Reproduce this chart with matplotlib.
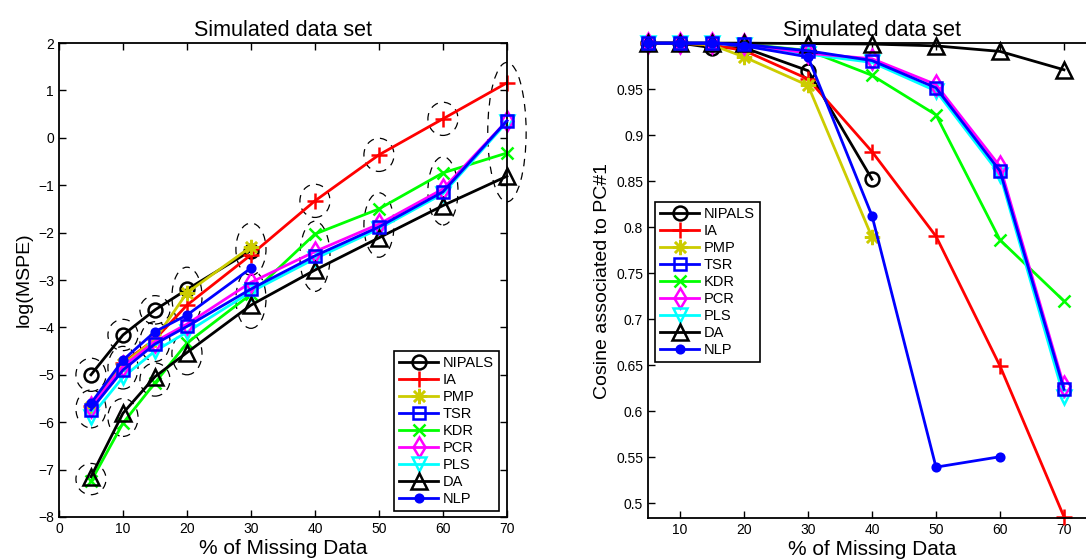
import numpy as np
import matplotlib
matplotlib.use("Agg")
import matplotlib.pyplot as plt
from matplotlib.patches import Ellipse

plt.rcParams['font.family'] = ['Liberation Sans', 'DejaVu Sans']

missing = [5, 10, 15, 20, 30, 40, 50, 60, 70]
names = ['NIPALS', 'IA', 'PMP', 'TSR', 'KDR', 'PCR', 'PLS', 'DA', 'NLP']

# left panel: log(MSPE)
mspe_nipals = [-5.0, -4.16, -3.63, -3.2, -2.38]
mspe_ia = [-5.65, -4.75, -4.25, -3.53, -2.47, -1.33, -0.36, 0.40, 1.16]
mspe_pmp = [-5.68, -4.78, -4.25, -3.27, -2.3]
mspe_tsr = [-5.74, -4.9, -4.35, -3.98, -3.19, -2.49, -1.88, -1.14, 0.36]
mspe_kdr = [-7.25, -6.02, -5.17, -4.33, -3.3, -2.03, -1.5, -0.74, -0.32]
mspe_pcr = [-5.68, -4.82, -4.3, -3.93, -3.05, -2.4, -1.82, -1.08, 0.36]
mspe_pls = [-5.88, -5.05, -4.5, -4.1, -3.25, -2.55, -1.92, -1.18, 0.33]
mspe_da = [-7.15, -5.81, -5.04, -4.53, -3.53, -2.79, -2.11, -1.43, -0.81]
mspe_nlp = [-5.6, -4.69, -4.09, -3.74, -2.75]

# dashed groups on the left panel
grp_x = [5, 5, 5, 10, 10, 10, 15, 15, 15, 20, 20, 30, 30, 40, 40, 50, 50, 60, 60, 70]
grp_y = [-5.0, -5.72, -7.2, -4.16, -4.85, -5.9, -3.63, -4.3, -5.1, -3.35, -4.55,
         -2.35, -3.4, -1.33, -2.5, -0.36, -1.84, 0.40, -1.12, 0.12]
grp_h = [0.35, 0.4, 0.33, 0.33, 0.45, 0.4, 0.3, 0.42, 0.35, 0.62, 0.45,
         0.55, 0.62, 0.35, 0.74, 0.35, 0.68, 0.35, 0.72, 1.47]
grp_w = [2.35] * 19 + [3.0]

# right panel: cosine with PC#1
cos_nipals = [1.0, 1.0, 0.995, 0.995, 0.970, 0.852]
cos_ia = [1.0, 1.0, 0.998, 0.992, 0.961, 0.882, 0.790, 0.649, 0.485]
cos_pmp = [1.0, 1.0, 0.998, 0.985, 0.954, 0.789]
cos_tsr = [1.0, 1.0, 1.0, 0.9985, 0.9917, 0.981, 0.9514, 0.861, 0.6236]
cos_kdr = [1.0, 1.0, 1.0, 0.999, 0.992, 0.965, 0.922, 0.786, 0.7196]
cos_pcr = [1.0, 1.0, 1.0, 0.999, 0.989, 0.983, 0.955, 0.866, 0.627]
cos_pls = [1.0, 1.0, 1.0, 0.998, 0.988, 0.979, 0.948, 0.857, 0.615]
cos_da = [1.0, 1.0, 1.0, 1.0, 0.9995, 0.999, 0.997, 0.991, 0.971]
cos_nlp = [1.0, 1.0, 1.0, 0.997, 0.985, 0.8123, 0.539, 0.5503]

styles = {
    'NIPALS': dict(color='k', marker='o', mfc='none', ms=10, z=2.0),
    'IA': dict(color='#ff0000', marker='+', mfc='none', ms=12, z=2.1),
    'PMP': dict(color='#cccc00', marker=(8, 2, 0), mfc='none', ms=11, z=2.2),
    'TSR': dict(color='#0000ff', marker='s', mfc='none', ms=9, z=2.7),
    'KDR': dict(color='#00ff00', marker='x', mfc='none', ms=9, z=2.3),
    'PCR': dict(color='#ff00ff', marker='d', mfc='none', ms=10, z=2.5),
    'PLS': dict(color='#00ffff', marker='v', mfc='none', ms=10, z=2.4),
    'DA': dict(color='k', marker='^', mfc='none', ms=11, z=2.6),
    'NLP': dict(color='#0000ff', marker='.', mfc='#0000ff', ms=11, z=2.8),
}

left_data = [mspe_nipals, mspe_ia, mspe_pmp, mspe_tsr, mspe_kdr, mspe_pcr, mspe_pls, mspe_da, mspe_nlp]
right_data = [cos_nipals, cos_ia, cos_pmp, cos_tsr, cos_kdr, cos_pcr, cos_pls, cos_da, cos_nlp]

fig = plt.figure(figsize=(10.86, 5.6), dpi=100)
ax1 = fig.add_axes([0.0543, 0.0768, 0.4125, 0.8464])
ax2 = fig.add_axes([0.5967, 0.075, 0.4125, 0.848])


def draw(ax, data):
    for name, ys in zip(names, data):
        st = styles[name]
        ax.plot(missing[:len(ys)], ys, color=st['color'], marker=st['marker'],
                mfc=st['mfc'], mec=st['color'], ms=st['ms'], lw=2, mew=1.8,
                zorder=st['z'], clip_on=False, label=name)


def style_axes(ax):
    for sp in ax.spines.values():
        sp.set_linewidth(1.3)
    ax.tick_params(direction='in', top=True, right=True, length=5, width=1,
                   labelsize=10)


def add_legend(ax, loc, anchor):
    leg = ax.legend(loc=loc, bbox_to_anchor=anchor, borderaxespad=0, fontsize=10.5,
                    handlelength=2.7, labelspacing=0.2, borderpad=0.35, handletextpad=0.3,
                    fancybox=False, framealpha=1, edgecolor='k')
    leg.get_frame().set_linewidth(1.2)


draw(ax1, left_data)
for gx, gy, gh, gw in zip(grp_x, grp_y, grp_h, grp_w):
    ax1.add_patch(Ellipse((gx, gy), 2 * gw, 2 * gh, fill=False, ec='k', lw=0.9,
                          ls=(0, (6, 5)), clip_on=False, zorder=1.5))
ax1.set_xlim(0, 70)
ax1.set_ylim(-8, 2)
ax1.set_xticks([0, 10, 20, 30, 40, 50, 60, 70])
ax1.set_yticks([-8, -7, -6, -5, -4, -3, -2, -1, 0, 1, 2])
ax1.set_title('Simulated data set', fontsize=15.5, pad=5)
ax1.set_xlabel('% of Missing Data', fontsize=15, labelpad=2)
ax1.set_ylabel('log(MSPE)', fontsize=14, labelpad=4)
style_axes(ax1)
add_legend(ax1, 'lower right', (0.982, 0.013))

draw(ax2, right_data)
ax2.set_xlim(5, 75)
ax2.set_ylim(0.4837, 1.0)
ax2.set_xticks([10, 20, 30, 40, 50, 60, 70])
ax2.set_yticks([0.5, 0.55, 0.6, 0.65, 0.7, 0.75, 0.8, 0.85, 0.9, 0.95])
ax2.set_yticklabels(['0.5', '0.55', '0.6', '0.65', '0.7', '0.75', '0.8', '0.85', '0.9', '0.95'])
ax2.set_title('Simulated data set', fontsize=15.5, pad=5)
ax2.set_xlabel('% of Missing Data', fontsize=15, labelpad=2)
ax2.set_ylabel('Cosine associated to PC#1', fontsize=14, labelpad=4)
style_axes(ax2)
add_legend(ax2, 'upper left', (0.0156, 0.665))

fig.savefig('out.png', dpi=100)
